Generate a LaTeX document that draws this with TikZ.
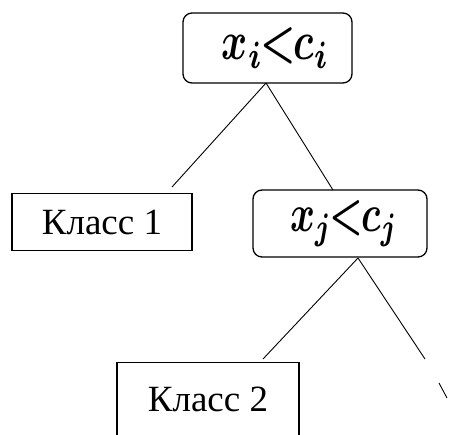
\documentclass[tikz,border=0pt]{standalone}
\usepackage{fontspec}
\setmainfont{Liberation Serif}
\begin{document}
\begin{tikzpicture}[x=1pt,y=-1pt,
  cond/.style={draw, line width=1.3pt, rounded corners=9pt, inner sep=0pt},
  leaf/.style={draw, line width=1.3pt, inner sep=0pt, font=\fontsize{37}{42}\selectfont},
  edge/.style={line width=0.9pt}]
  \useasboundingbox (0,0) rectangle (450,434);
  \clip (0,0) rectangle (450,434);
  % decision nodes
  \node[cond, minimum width=169pt, minimum height=70pt] (ci) at (267.5,48)
    {\hspace{16pt}\raisebox{-2pt}{\resizebox*{107pt}{40pt}{\boldmath$x_i\mkern-1mu{<}\mkern-1mu c_i$}}};
  \node[cond, minimum width=174pt, minimum height=67pt] (cj) at (340,223.5)
    {\hspace{8pt}\raisebox{-1pt}{\resizebox*{108pt}{46pt}{\boldmath$x_j\mkern-1mu{<}\mkern-1mu c_j$}}};
  % leaves
  \node[leaf, minimum width=180pt, minimum height=57pt] (k1) at (102,222) {Класс 1};
  \node[leaf, minimum width=182pt, minimum height=74pt, anchor=north] (k2) at (208,362) {Класс 2};
  % branch points
  \coordinate (ai) at (266,83);
  \coordinate (l1) at (172,187);
  \coordinate (r1) at (333,190);
  \coordinate (aj) at (358,258);
  \coordinate (l2) at (263,359);
  \coordinate (r2) at (425,359);
  \coordinate (r3a) at (439,383);
  \coordinate (r3b) at (447,398);
  % branches
  \draw[edge] (ai) -- (l1);
  \draw[edge] (ai) -- (r1);
  \draw[edge] (aj) -- (l2);
  \draw[edge] (aj) -- (r2);
  \draw[edge] (r3a) -- (r3b);
\end{tikzpicture}
\end{document}
